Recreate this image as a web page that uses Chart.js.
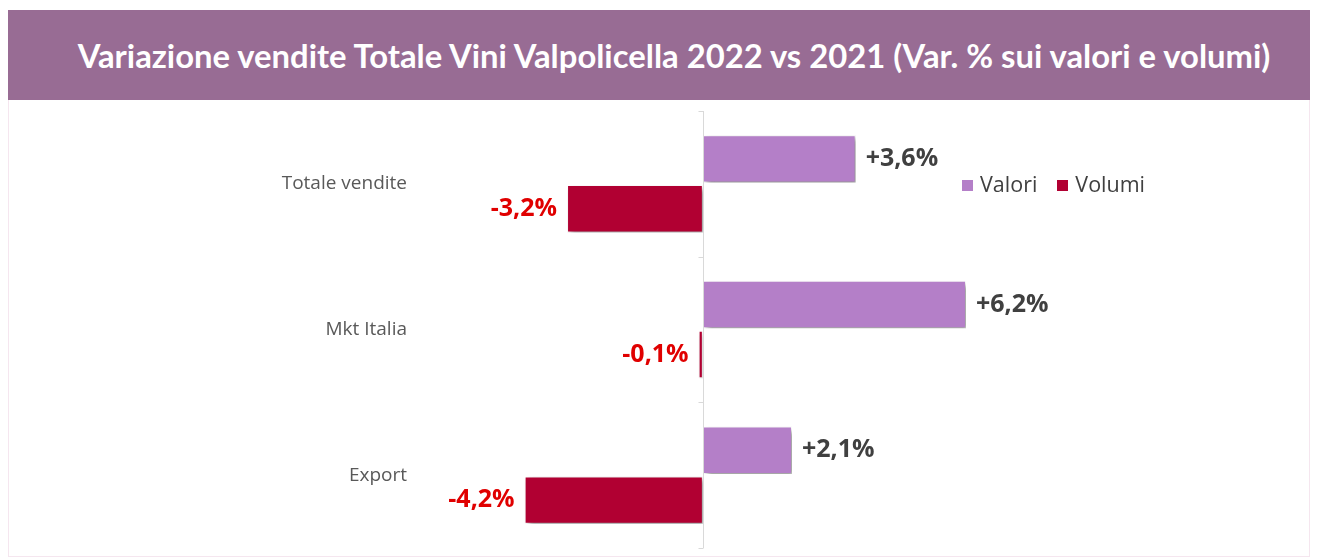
<!DOCTYPE html>
<html>
<head>
<meta charset="utf-8">
<script src="https://cdn.jsdelivr.net/npm/chart.js@4/dist/chart.umd.min.js"></script>
<style>
    body { margin: 0; background: #fff; width: 1325px; height: 557px; overflow: hidden; position: relative; }
    #banner {
        position: absolute; left: 8px; top: 10px; width: 1302px; height: 90px;
        background: #986c94; color: #fff;
        font-family: Lato, sans-serif; font-weight: bold; font-size: 32.8px;
        display: flex; align-items: center; justify-content: center;
        padding-left: 30px; box-sizing: border-box;
    }
    #box {
        position: absolute; left: 8px; top: 100px; width: 1302px; height: 457px;
        border: 1px solid #f5e6ef; border-top: none; box-sizing: border-box;
    }
    #wrap { position: absolute; left: 0; top: 0; width: 1300px; height: 456px; }
    #legend {
        position: absolute; left: 962px; top: 169px;
        font-family: "Open Sans", sans-serif; font-size: 21.5px; color: #404040;
        display: flex; gap: 20px;
    }
    #legend span.sw { display: inline-block; width: 11px; height: 11px; margin-right: 7px; vertical-align: 1px; }
</style>
</head>
<body>
<div id="banner">Variazione vendite Totale Vini Valpolicella 2022 vs 2021 (Var. % sui valori e volumi)</div>
<div id="box"><div id="wrap"><canvas id="chart"></canvas></div></div>
<div id="legend"></div>
<script>
// Chart data
const categories = ['Totale vendite', 'Mkt Italia', 'Export'];
const seriesNames = ['Valori', 'Volumi'];
const valori = [3.6, 6.2, 2.1];
const volumi = [-3.2, -0.1, -4.2];

const colors = ['#b47fc8', '#b10032'];
const labelColors = ['#404040', '#e00000'];

function formatPct(v) {
    return (v > 0 ? '+' : '') + v.toFixed(1).replace('.', ',') + '%';
}

// Drop shadow for bars
const shadowPlugin = {
    id: 'barShadow',
    beforeDatasetDraw(chart) {
        const ctx = chart.ctx;
        ctx.save();
        ctx.shadowColor = 'rgba(0,0,0,0.45)';
        ctx.shadowBlur = 5;
        ctx.shadowOffsetX = 3;
        ctx.shadowOffsetY = 3;
    },
    afterDatasetDraw(chart) {
        chart.ctx.restore();
    }
};

// Zero axis line with category tick marks
const zeroAxisPlugin = {
    id: 'zeroAxis',
    afterDatasetsDraw(chart) {
        const ctx = chart.ctx;
        const x = Math.round(chart.scales.x.getPixelForValue(0)) + 0.5;
        const yScale = chart.scales.y;
        const half = (yScale.getPixelForValue(1) - yScale.getPixelForValue(0)) / 2;
        ctx.save();
        ctx.strokeStyle = '#d9d9d9';
        ctx.lineWidth = 1;
        ctx.beginPath();
        ctx.moveTo(x, chart.chartArea.top);
        ctx.lineTo(x, chart.chartArea.bottom);
        for (let i = 0; i <= categories.length; i++) {
            const y = Math.round(yScale.getPixelForValue(i) - half) + 0.5;
            ctx.moveTo(x - 5, y);
            ctx.lineTo(x, y);
        }
        ctx.stroke();
        ctx.restore();
    }
};

// Value labels next to bars
const valueLabelPlugin = {
    id: 'valueLabels',
    afterDatasetsDraw(chart) {
        const ctx = chart.ctx;
        ctx.save();
        ctx.font = 'bold 25px "Open Sans", sans-serif';
        ctx.textBaseline = 'middle';
        chart.data.datasets.forEach((ds, di) => {
            const meta = chart.getDatasetMeta(di);
            meta.data.forEach((bar, i) => {
                const v = ds.data[i];
                ctx.fillStyle = labelColors[di];
                if (v >= 0) {
                    ctx.textAlign = 'left';
                    ctx.fillText(formatPct(v), bar.x + 10, bar.y);
                } else {
                    ctx.textAlign = 'right';
                    ctx.fillText(formatPct(v), bar.x - 10, bar.y);
                }
            });
        });
        ctx.restore();
    }
};

const chart = new Chart(document.getElementById('chart'), {
    type: 'bar',
    data: {
        labels: categories,
        datasets: [
            { label: seriesNames[0], data: valori, backgroundColor: colors[0] },
            { label: seriesNames[1], data: volumi, backgroundColor: colors[1] }
        ]
    },
    options: {
        indexAxis: 'y',
        responsive: true,
        maintainAspectRatio: false,
        animation: false,
        layout: { padding: { top: 11, bottom: 8, right: 12, left: 0 } },
        datasets: {
            bar: {
                categoryPercentage: 0.685,
                barPercentage: 0.95,
                borderColor: '#ffffff',
                borderWidth: 1,
                borderSkipped: false
            }
        },
        scales: {
            x: { display: false, min: -6.5, max: 14 },
            y: {
                grid: { display: false, drawTicks: false },
                border: { display: false },
                ticks: {
                    color: '#595959',
                    padding: 20,
                    font: { family: '"Open Sans", sans-serif', size: 19 }
                },
                afterFit(scale) {
                    scale.width = 418;
                    scale.paddingTop = 0;
                    scale.paddingBottom = 0;
                }
            }
        },
        plugins: {
            legend: { display: false },
            tooltip: { enabled: false }
        }
    },
    plugins: [shadowPlugin, zeroAxisPlugin, valueLabelPlugin]
});

// HTML legend
const legendEl = document.getElementById('legend');
seriesNames.forEach((name, i) => {
    const item = document.createElement('div');
    item.innerHTML = '<span class="sw" style="background:' + colors[i] + '"></span>' + name;
    legendEl.appendChild(item);
});
</script>
</body>
</html>
